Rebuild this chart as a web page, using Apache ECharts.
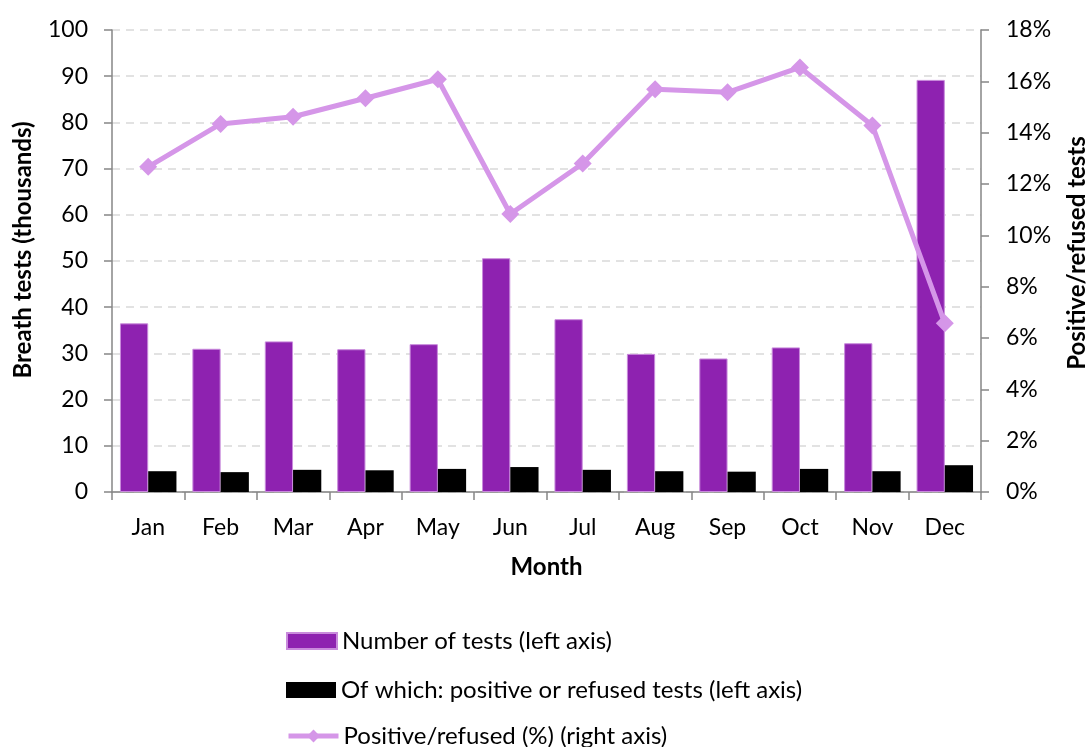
<!DOCTYPE html>
<html>
<head>
<meta charset="utf-8">
<script src="https://cdn.jsdelivr.net/npm/echarts@6/dist/echarts.min.js"></script>
<style>html,body{margin:0;padding:0;background:#fff}#c{width:1088px;height:747px}</style>
</head>
<body>
<div id="c"></div>
<script>
const months = ['Jan','Feb','Mar','Apr','May','Jun','Jul','Aug','Sep','Oct','Nov','Dec'];
const totalTests = [36.5, 31.0, 32.6, 30.9, 32.0, 50.6, 37.4, 29.9, 28.9, 31.3, 32.2, 89.2];
const positiveTests = [4.5, 4.3, 4.8, 4.7, 5.0, 5.4, 4.8, 4.5, 4.4, 5.0, 4.5, 5.8];
const positivePct = [12.67, 14.34, 14.62, 15.34, 16.08, 10.83, 12.80, 15.69, 15.57, 16.54, 14.28, 6.57];
const seriesNames = ['Number of tests (left axis)', 'Of which: positive or refused tests (left axis)', 'Positive/refused (%) (right axis)'];

const FONT = 'Lato, "Open Sans", sans-serif';
const PURPLE = '#8E22B0', LILAC = '#D596E8';
const legendTops = [629, 678, 724];
const legendIcons = ['rect', 'rect', null];
const chart = echarts.init(document.getElementById('c'), null, {renderer: 'canvas'});
chart.setOption({
  animation: false,
  textStyle: {fontFamily: FONT, color: '#000'},
  grid: {left: 112, right: 107, top: 30, bottom: 255, containLabel: false, outerBoundsMode: 'none'},
  legend: seriesNames.map((n, i) => {
    const item = {name: n};
    if (legendIcons[i]) item.icon = legendIcons[i];
    return {
      orient: 'vertical', left: 286, top: legendTops[i], padding: 0,
      itemWidth: 50, itemHeight: 16, itemGap: 0,
      lineStyle: {width: 5},
      textStyle: {fontSize: 24, fontFamily: FONT, color: '#000'},
      data: [item]
    };
  }),
  xAxis: {
    type: 'category', data: months,
    name: 'Month', nameLocation: 'middle', nameGap: 63,
    nameTextStyle: {fontSize: 24, fontWeight: 'bold', fontFamily: FONT, color: '#000'},
    axisLine: {lineStyle: {color: '#868686', width: 1.5}},
    axisTick: {show: true, alignWithLabel: false, length: 8, lineStyle: {color: '#868686', width: 1.5}},
    axisLabel: {fontSize: 23, color: '#000', margin: 24, fontFamily: FONT}
  },
  yAxis: [{
    type: 'value', min: 0, max: 100, interval: 10,
    name: 'Breath tests (thousands)', nameLocation: 'middle', nameGap: 77, nameRotate: 90,
    nameTextStyle: {fontSize: 24, fontWeight: 'bold', fontFamily: FONT, color: '#000', padding: [0, 0, 0, 22]},
    axisLine: {show: true, lineStyle: {color: '#868686', width: 1.5}},
    axisTick: {show: true, length: 8, lineStyle: {color: '#868686', width: 1.5}},
    axisLabel: {fontSize: 23, color: '#000', margin: 24, fontFamily: FONT},
    splitLine: {show: true, lineStyle: {color: '#d9d9d9', type: [8, 6], width: 1.5}}
  }, {
    type: 'value', min: 0, max: 18, interval: 2,
    name: 'Positive/refused tests', nameLocation: 'middle', nameGap: 84, nameRotate: 90,
    nameTextStyle: {fontSize: 24, fontWeight: 'bold', fontFamily: FONT, color: '#000', padding: [0, 0, 0, 16]},
    axisLine: {show: true, lineStyle: {color: '#868686', width: 1.5}},
    axisTick: {show: true, length: 8, lineStyle: {color: '#868686', width: 1.5}},
    axisLabel: {fontSize: 23, color: '#000', margin: 25, fontFamily: FONT, formatter: v => v + '%'},
    splitLine: {show: false}
  }],
  series: [{
    name: seriesNames[0], type: 'bar', data: totalTests,
    barGap: '0%', barCategoryGap: '22%',
    itemStyle: {color: PURPLE, borderColor: '#C98BDC', borderWidth: 1}
  }, {
    name: seriesNames[1], type: 'bar', data: positiveTests,
    barGap: '0%', barCategoryGap: '22%',
    itemStyle: {color: '#000000'}
  }, {
    name: seriesNames[2], type: 'line', yAxisIndex: 1, data: positivePct,
    symbol: 'diamond', symbolSize: 18,
    lineStyle: {color: LILAC, width: 5},
    itemStyle: {color: LILAC}, z: 5
  }]
});
</script>
</body>
</html>
